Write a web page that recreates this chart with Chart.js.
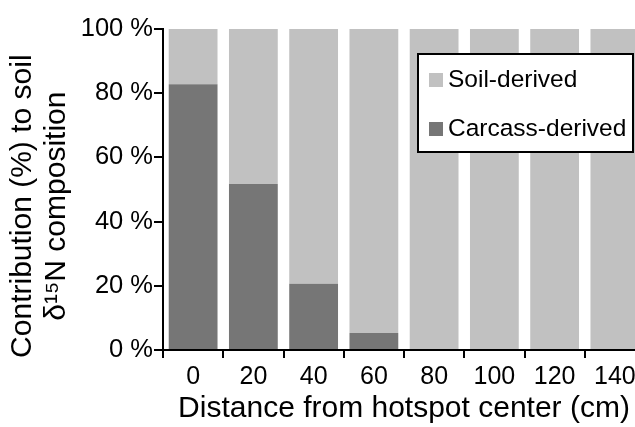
<!DOCTYPE html>
<html>
<head>
<meta charset="utf-8">
<script src="https://cdn.jsdelivr.net/npm/chart.js@4/dist/chart.umd.min.js"></script>
<style>
  html, body { margin: 0; padding: 0; background: #fff; overflow: hidden; }
  #wrap { width: 680px; height: 427px; }
</style>
</head>
<body>
<div id="wrap"><canvas id="c" width="680" height="427"></canvas></div>
<script>
// ---- data ----
const categories = ['0', '20', '40', '60', '80', '100', '120', '140'];
const carcassDerived = [82.8, 51.7, 20.6, 5.3, 0, 0, 0, 0];
const soilDerived = [17.2, 48.3, 79.4, 94.7, 100, 100, 100, 100];
const seriesLabels = ['Carcass-derived', 'Soil-derived'];
const yTickValues = [0, 20, 40, 60, 80, 100];
const xTitle = 'Distance from hotspot center (cm)';
const yTitle = ['Contribution (%) to soil', 'δ¹⁵N composition'];

const FONT = '"Liberation Sans", Arial, Helvetica, sans-serif';

const boxLegend = {
  id: 'boxLegend',
  afterDraw(chart) {
    const ctx = chart.ctx;
    const x0 = 418, y0 = 54, w = 215, h = 98;
    ctx.save();
    ctx.fillStyle = '#fff';
    ctx.fillRect(x0, y0, w, h);
    ctx.strokeStyle = '#000';
    ctx.lineWidth = 2;
    ctx.strokeRect(x0, y0, w, h);
    const items = chart.data.datasets.slice().reverse();
    ctx.font = '24.5px ' + FONT;
    ctx.textBaseline = 'middle';
    ctx.textAlign = 'left';
    items.forEach((ds, i) => {
      const cy = y0 + 26 + i * 49;
      ctx.fillStyle = ds.backgroundColor;
      ctx.fillRect(x0 + 11, cy - 7, 14, 14);
      ctx.fillStyle = '#000';
      ctx.fillText(ds.label, x0 + 30, cy);
    });
    ctx.restore();
  }
};

new Chart(document.getElementById('c'), {
  type: 'bar',
  data: {
    labels: categories,
    datasets: [
      { label: seriesLabels[0], data: carcassDerived, backgroundColor: '#767676', borderWidth: 0 },
      { label: seriesLabels[1], data: soilDerived, backgroundColor: '#c1c1c1', borderWidth: 0 }
    ]
  },
  options: {
    responsive: false,
    animation: false,
    layout: { padding: { left: 0, right: 35, top: 29, bottom: 0 } },
    plugins: { legend: { display: false }, tooltip: { enabled: false } },
    datasets: { bar: { barPercentage: 0.81, categoryPercentage: 1.0 } },
    scales: {
      x: {
        stacked: true,
        afterFit(s) { s.height = 77; },
        grid: { offset: true, drawOnChartArea: false, drawTicks: true, tickLength: 8, color: '#000', lineWidth: 2 },
        border: { display: true, color: '#000', width: 2 },
        ticks: { color: '#000', font: { family: FONT, size: 25 }, padding: 4, maxRotation: 0, autoSkip: false },
        title: { display: true, text: xTitle, color: '#000', font: { family: FONT, size: 30 }, padding: { top: 0, bottom: 0 } }
      },
      y: {
        stacked: true,
        min: 0, max: 100,
        afterFit(s) { s.width = 163; },
        afterBuildTicks(s) { s.ticks = yTickValues.map(v => ({ value: v })); },
        grid: { drawOnChartArea: false, drawTicks: true, tickLength: 9, color: '#000', lineWidth: 2 },
        border: { display: true, color: '#000', width: 2 },
        ticks: { color: '#000', font: { family: FONT, size: 25.5 }, padding: 1, callback: v => v + ' %' },
        title: { display: true, text: yTitle.map(t => t + '    '), color: '#000', font: { family: FONT, size: 30, lineHeight: 1.15 }, padding: { top: 5, bottom: 0 } }
      }
    }
  },
  plugins: [boxLegend]
});
</script>
</body>
</html>
